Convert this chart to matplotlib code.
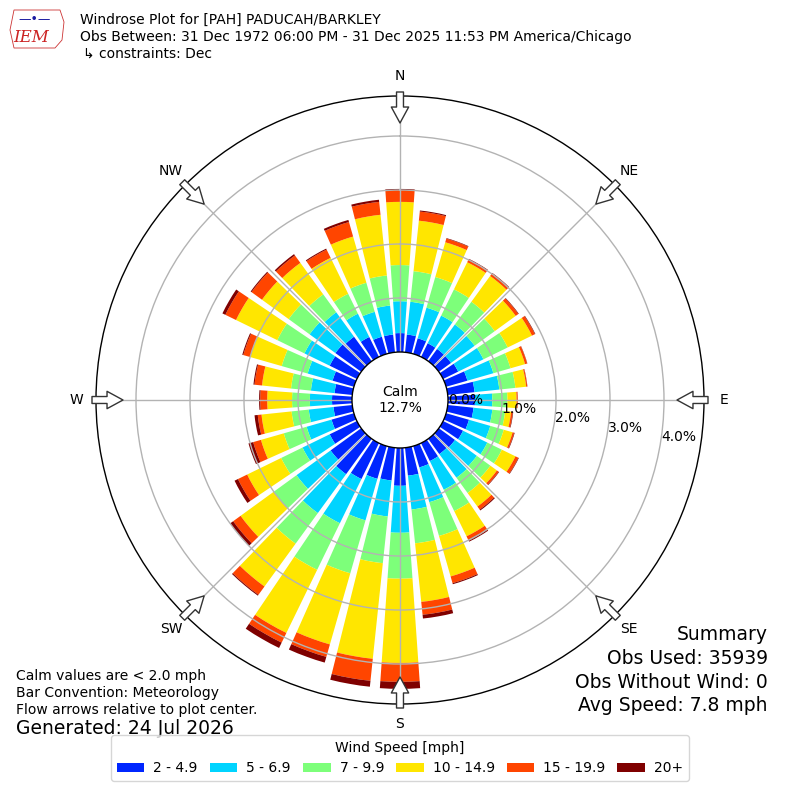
import numpy as np
import matplotlib
matplotlib.use("Agg")
import matplotlib.pyplot as plt
from matplotlib.patches import Circle, Rectangle, Polygon

# ---------------- data ----------------
directions = np.arange(0, 360, 10)  # degrees, meteorological (from)
speed_labels = ["2 - 4.9", "5 - 6.9", "7 - 9.9", "10 - 14.9", "15 - 19.9", "20+"]
speed_colors = ["#0026ff", "#00d4ff", "#7dff7a", "#ffe600", "#ff4500", "#7f0000"]

# percent frequency per direction for each speed bin
spd_2_49 = [0.35, 0.33, 0.30, 0.28, 0.28, 0.28, 0.31, 0.41, 0.50, 0.50, 0.48, 0.44,
            0.41, 0.37, 0.35, 0.37, 0.41, 0.52, 0.70, 0.61, 0.63, 0.74, 0.81, 0.70,
            0.56, 0.43, 0.35, 0.37, 0.33, 0.41, 0.56, 0.59, 0.56, 0.41, 0.33, 0.33]
spd_5_69 = [0.59, 0.61, 0.59, 0.57, 0.56, 0.54, 0.52, 0.50, 0.46, 0.32, 0.35, 0.41,
            0.50, 0.50, 0.54, 0.59, 0.67, 0.63, 0.87, 0.67, 0.80, 0.91, 0.89, 0.78,
            0.56, 0.48, 0.46, 0.41, 0.44, 0.48, 0.52, 0.59, 0.56, 0.48, 0.48, 0.54]
spd_7_99 = [0.67, 0.57, 0.59, 0.54, 0.52, 0.46, 0.50, 0.33, 0.30, 0.28, 0.24, 0.26,
            0.30, 0.31, 0.35, 0.44, 0.65, 0.63, 0.85, 0.87, 1.02, 0.96, 0.70, 0.52,
            0.44, 0.44, 0.32, 0.33, 0.37, 0.50, 0.56, 0.48, 0.41, 0.41, 0.56, 0.56]
spd_10_149 = [1.17, 0.94, 0.67, 0.56, 0.59, 0.48, 0.50, 0.28, 0.20, 0.17, 0.11, 0.17,
              0.28, 0.15, 0.31, 0.52, 0.78, 1.09, 1.56, 1.78, 1.37, 1.30, 0.98, 0.76,
              0.70, 0.44, 0.56, 0.46, 0.54, 0.61, 0.85, 0.61, 0.72, 0.74, 0.89, 1.13]
spd_15_199 = [0.22, 0.17, 0.07, 0.06, 0.06, 0.06, 0.06, 0.04, 0.02, 0.02, 0.03, 0.03,
              0.06, 0.04, 0.07, 0.09, 0.13, 0.24, 0.35, 0.41, 0.24, 0.20, 0.19, 0.17,
              0.19, 0.15, 0.07, 0.13, 0.14, 0.13, 0.22, 0.24, 0.17, 0.17, 0.28, 0.24]
spd_20p = [0.02, 0.02, 0.01, 0.01, 0.01, 0.01, 0.01, 0.005, 0.004, 0.003, 0.01, 0.01,
           0.01, 0.01, 0.02, 0.02, 0.02, 0.07, 0.13, 0.11, 0.11, 0.11, 0.02, 0.07,
           0.07, 0.09, 0.06, 0.02, 0.02, 0.02, 0.06, 0.02, 0.03, 0.02, 0.04, 0.04]

calm_pct = 12.7
ring_values = [0, 1, 2, 3, 4]
compass = ["N", "NE", "E", "SE", "S", "SW", "W", "NW"]
compass_angles = np.arange(0, 360, 45)

title_lines = ["Windrose Plot for [PAH] PADUCAH/BARKLEY",
               "Obs Between: 31 Dec 1972 06:00 PM - 31 Dec 2025 11:53 PM America/Chicago",
               "\u21b3 constraints: Dec"]
summary_lines = ["Summary", "Obs Used: 35939", "Obs Without Wind: 0", "Avg Speed: 7.8 mph"]
notes = ["Calm values are < 2.0 mph", "Bar Convention: Meteorology",
         "Flow arrows relative to plot center."]
generated = "Generated: 24 Jul 2026"

# ---------------- figure ----------------
W = H = 800
fig = plt.figure(figsize=(8, 8), dpi=100)
R_PX = 304.0          # outer radius in pixels
CALM_PX = 48.0        # calm circle radius
PX_PER_PCT = 54.0
rmin = -CALM_PX / PX_PER_PCT
rmax = (R_PX - CALM_PX) / PX_PER_PCT

ax = fig.add_axes([(400 - R_PX) / W, (400 - R_PX) / H, 2 * R_PX / W, 2 * R_PX / H],
                  projection="polar")
ax.set_theta_zero_location("N")
ax.set_theta_direction(-1)
ax.set_ylim(rmin, rmax)

series = [spd_2_49, spd_5_69, spd_7_99, spd_10_149, spd_15_199, spd_20p]
theta = np.radians(directions)
bottom = np.zeros(len(directions))
for vals, col in zip(series, speed_colors):
    vals = np.asarray(vals)
    ax.bar(theta, vals, width=np.radians(8), bottom=bottom, color=col,
           edgecolor="none", align="center", zorder=1)
    bottom = bottom + vals

ax.set_axisbelow(False)
ax.set_rgrids([1, 2, 3, 4], labels=[""] * 4)
ax.set_thetagrids(compass_angles, labels=[""] * 8)
ax.grid(True, color="#b3b3b3", lw=1.0)
ax.tick_params(axis="both", length=0)
ax.spines["polar"].set_color("black")
ax.spines["polar"].set_linewidth(1.0)

# radial labels
for v in ring_values:
    rpx = CALM_PX + PX_PER_PCT * v
    dy = 9.3 * v
    th = np.radians(90) + np.arctan2(dy, rpx)
    ax.text(th, v, f"{v:.1f}%", ha="left", va="center", fontsize=10, zorder=6)

# compass labels
r_lab = (324 - CALM_PX) / PX_PER_PCT
for lab, ang in zip(compass, compass_angles):
    ax.text(np.radians(ang), r_lab, lab, ha="center", va="center", fontsize=10,
            clip_on=False)

# flow arrows
r_out = (308 - CALM_PX) / PX_PER_PCT
r_in = (277 - CALM_PX) / PX_PER_PCT
for ang in compass_angles:
    ax.annotate("", xy=(np.radians(ang), r_in), xytext=(np.radians(ang), r_out),
                arrowprops=dict(arrowstyle="simple,head_length=1.15,head_width=1.25,tail_width=0.5",
                                fc="white", ec="#333333", lw=1.0, mutation_scale=10,
                                shrinkA=0, shrinkB=0),
                annotation_clip=False, zorder=7)

# calm circle
ax.add_patch(Circle((0.5, 0.5), CALM_PX / (2 * R_PX), transform=ax.transAxes,
                    fc="white", ec="black", lw=1.0, zorder=5))
ax.text(0.5, 0.5, f"Calm\n{calm_pct}%", transform=ax.transAxes, ha="center",
        va="center", fontsize=10, zorder=6, linespacing=1.1)

# titles
fig.text(80 / W, 1 - 20 / H, title_lines[0], fontsize=10, va="center", ha="left")
fig.text(80 / W, 1 - 37 / H, title_lines[1], fontsize=10, va="center", ha="left")
fig.text(83 / W, 1 - 54 / H, title_lines[2], fontsize=10, va="center", ha="left")

# logo (simple)
logo = Polygon([[14 / W, 1 - 10 / H], [60 / W, 1 - 10 / H], [64 / W, 1 - 22 / H],
                [62 / W, 1 - 40 / H], [55 / W, 1 - 48 / H], [14 / W, 1 - 48 / H],
                [10 / W, 1 - 30 / H]], closed=True, transform=fig.transFigure,
               fc="none", ec="#cc3333", lw=0.6)
fig.patches.append(logo)
fig.text(31 / W, 1 - 38 / H, "IEM", fontsize=12, color="#cc2222", style="italic",
         family="DejaVu Serif", ha="center", va="center")
fig.text(35 / W, 1 - 20 / H, "\u2014\u2022\u2014", fontsize=9, color="#1a1aa0",
         ha="center", va="center")

# summary
for i, s in enumerate(summary_lines):
    fig.text(768 / W, 1 - (635 + 23.5 * i) / H, s, fontsize=13.5, ha="right", va="center")

# notes
for i, s in enumerate(notes):
    fig.text(16 / W, 1 - (676 + 17 * i) / H, s, fontsize=10, ha="left", va="center")
fig.text(16 / W, 1 - 729 / H, generated, fontsize=13.5, ha="left", va="center")

# legend
handles = [Rectangle((0, 0), 1, 1, fc=c, ec="none") for c in speed_colors]
leg = fig.legend(handles, speed_labels, loc="lower center", bbox_to_anchor=(0.5, 12 / H),
                 ncol=6, title="Wind Speed [mph]", fontsize=10, title_fontsize=10,
                 handlelength=2.0, handleheight=0.6, handletextpad=0.65,
                 columnspacing=0.85, borderpad=0.4, frameon=True)
leg.get_frame().set_edgecolor("#cccccc")

fig.savefig("out.png", dpi=100)
